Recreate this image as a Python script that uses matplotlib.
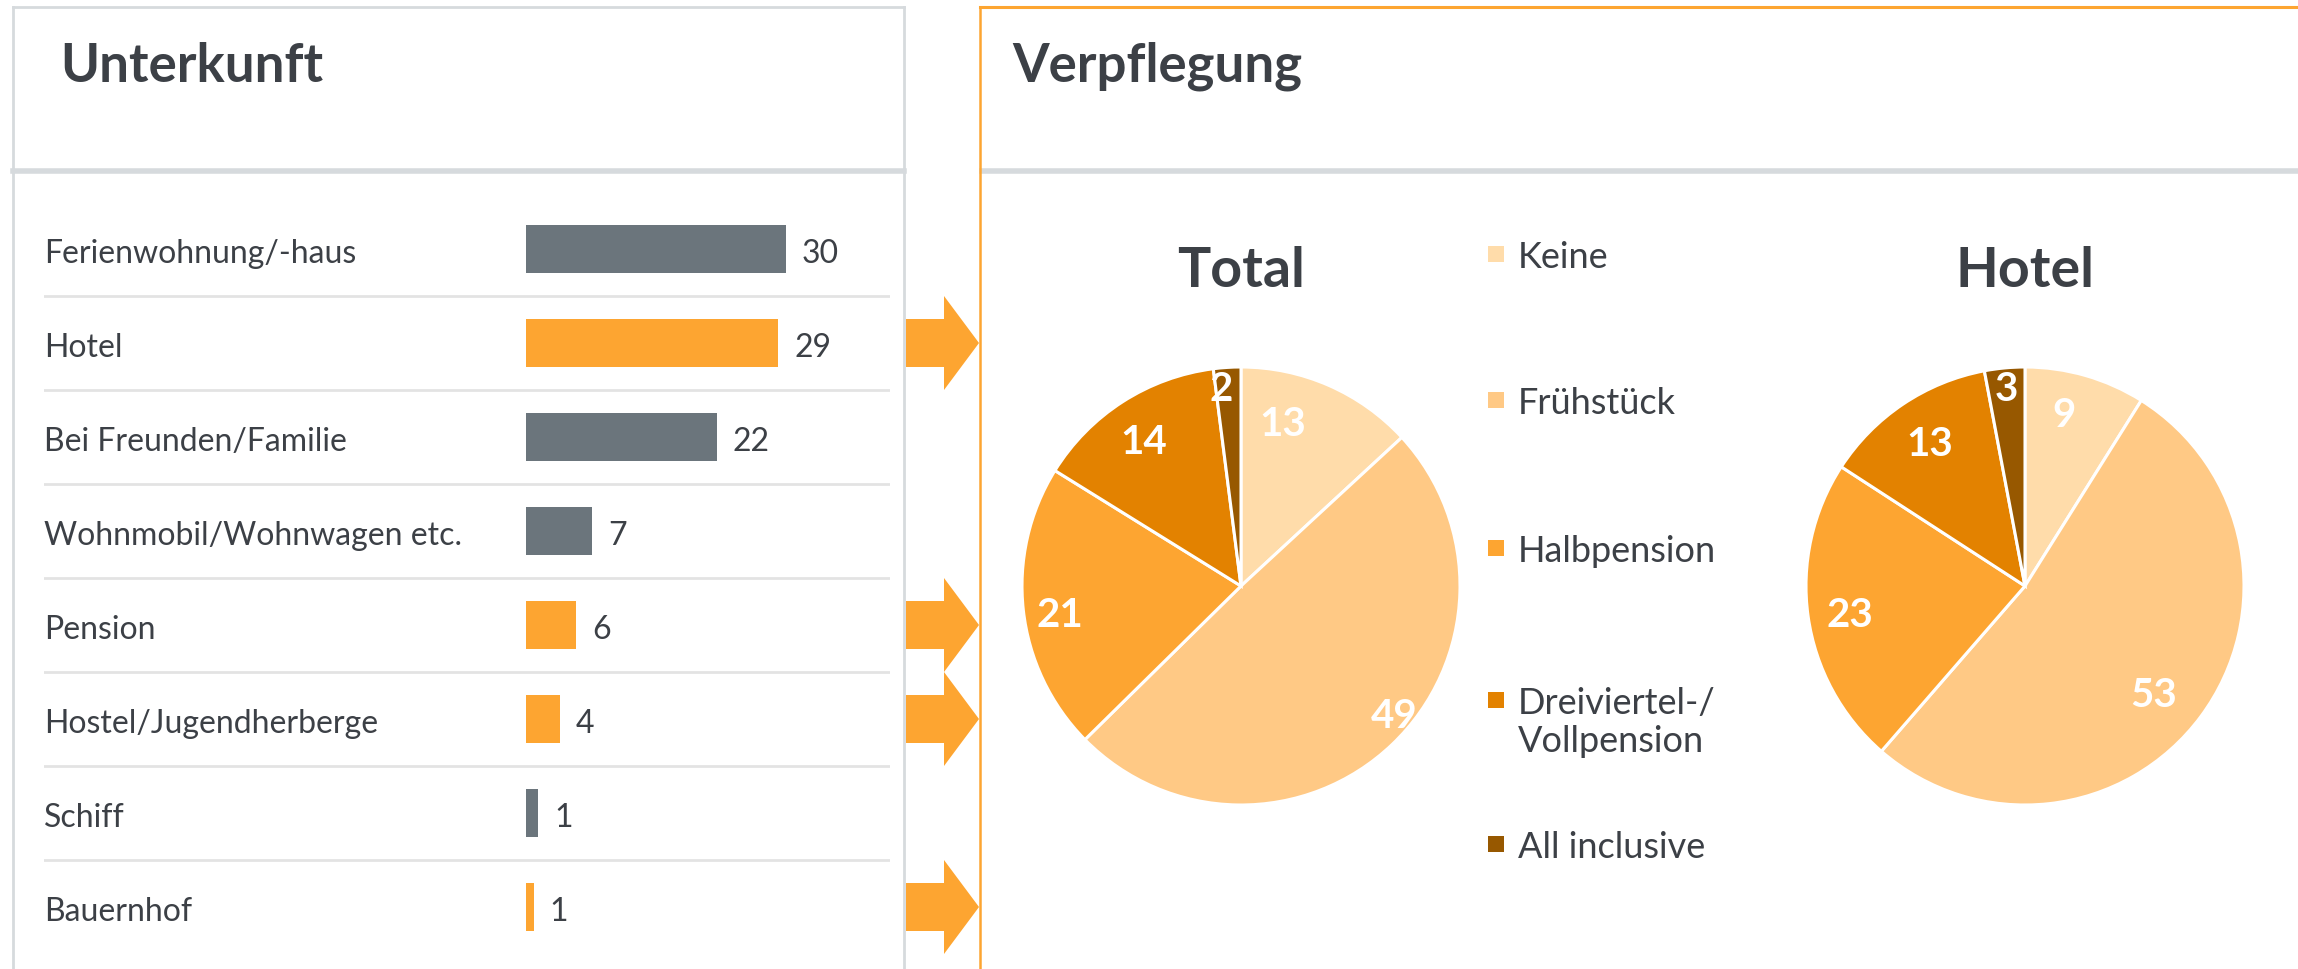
import numpy as np
import matplotlib.pyplot as plt
from matplotlib.patches import Polygon

plt.rcParams['font.family'] = ['Lato', 'DejaVu Sans']

# Unterkunft (Balken)
unterkunft = ['Ferienwohnung/-haus', 'Hotel', 'Bei Freunden/Familie',
              'Wohnmobil/Wohnwagen etc.', 'Pension', 'Hostel/Jugendherberge',
              'Schiff', 'Bauernhof']
anteil = [30.0, 29.1, 22.0, 7.6, 5.8, 3.9, 1.4, 0.9]
anteil_text = ['30', '29', '22', '7', '6', '4', '1', '1']
mit_pfeil = [False, True, False, False, True, True, False, True]

# Verpflegung (Kreise)
verpflegung = ['Keine', 'Frühstück', 'Halbpension', 'Dreiviertel-/\nVollpension', 'All inclusive']
total = [13, 49, 21, 14, 2]
hotel = [9, 53, 23, 13, 3]

grau = '#6B757C'
orange = '#FDA531'
farben = ['#FFDCAA', '#FFC985', '#FDA531', '#E38200', '#975800']
dunkel = '#3C4046'
linie = '#D6DADD'

W, H = 2298, 969
fig = plt.figure(figsize=(W / 100, H / 100), dpi=100)


def box(x0, y0, x1, y1):
    return [x0 / W, 1 - y1 / H, (x1 - x0) / W, (y1 - y0) / H]


bg = fig.add_axes([0, 0, 1, 1])
bg.set_xlim(0, W)
bg.set_ylim(H, 0)
bg.axis('off')

# Rahmen links
bg.plot([13, 13], [7, H + 5], color=linie, lw=2)
bg.plot([904, 904], [7, H + 5], color=linie, lw=2)
bg.plot([13, 904], [7, 7], color=linie, lw=2)
bg.plot([13, 904], [171, 171], color=linie, lw=4)
# Rahmen rechts
bg.plot([982, W + 5], [171, 171], color=linie, lw=4)
bg.plot([980, 980], [7, H + 5], color=orange, lw=1.8)
bg.plot([980, W + 5], [7, 7], color=orange, lw=2.2)

bg.text(60, 66, 'Unterkunft', fontsize=38, fontweight='bold', color=dunkel, va='center')
bg.text(1012, 66, 'Verpflegung', fontsize=38, fontweight='bold', color=dunkel, va='center')

# Balken
row_top, row_h = 202, 94
n = len(unterkunft)
unit = 260 / 30
ax = fig.add_axes(box(44, row_top, 890, row_top + row_h * n))
ax.set_xlim(-(526 - 44) / unit, (890 - 526) / unit)
ax.set_ylim(n - 0.5, -0.5)
ax.axis('off')
y = np.arange(n)
ax.barh(y, anteil, height=0.51, color=[orange if m else grau for m in mit_pfeil])
base = 14 / row_h
for i in range(n):
    ax.text(anteil[i] + 16 / unit, i + base, anteil_text[i], va='baseline', ha='left',
            fontsize=23, color=dunkel)
    ax.text(0, i + base, unterkunft[i], transform=ax.get_yaxis_transform(),
            va='baseline', ha='left', fontsize=23, color=dunkel)
for i in range(n - 1):
    ax.axhline(i + 0.5, color='#E3E3E3', lw=2)

# Pfeile
for i in range(n):
    if mit_pfeil[i]:
        yc = row_top + row_h * (i + 0.5)
        pts = [(906, yc - 24), (944, yc - 24), (944, yc - 47), (979, yc),
               (944, yc + 47), (944, yc + 24), (906, yc + 24)]
        bg.add_patch(Polygon(pts, closed=True, color=orange, lw=0))


def kreis(cx, cy, werte, titel, lab_r, lab_da):
    R = 219
    m = 1.05
    pa = fig.add_axes(box(cx - R * m, cy - R * m, cx + R * m, cy + R * m))
    wedges, _ = pa.pie(werte, colors=farben, startangle=90, counterclock=False,
                       wedgeprops=dict(edgecolor='white', linewidth=2.2))
    pa.set_xlim(-m, m)
    pa.set_ylim(-m, m)
    for w, v, r, da in zip(wedges, werte, lab_r, lab_da):
        a = np.deg2rad((w.theta1 + w.theta2) / 2 + da)
        pa.text(r * np.cos(a), r * np.sin(a), str(v), ha='center', va='center',
                fontsize=29, fontweight='bold', color='white', clip_on=False)
    bg.text(cx, cy - R - 96, titel, ha='center', va='center', fontsize=40,
            fontweight='bold', color=dunkel)


kreis(1241, 586, total, 'Total', [0.76, 0.92, 0.84, 0.79, 0.9], [9, 6, 3, 1.5, 2])
kreis(2025, 586, hotel, 'Hotel', [0.8, 0.77, 0.81, 0.78, 0.9], [3, -4, 1.5, 0, 0])

# Legende
leg_y = [254, 400, 548, 700, 844]
for name, f, ly in zip(verpflegung, farben, leg_y):
    bg.add_patch(plt.Rectangle((1488, ly - 8), 16, 16, color=f, lw=0))
    bg.text(1518, ly - 13, name, ha='left', va='top', fontsize=26, color=dunkel,
            linespacing=1.2)

fig.savefig('out.png', dpi=100)
